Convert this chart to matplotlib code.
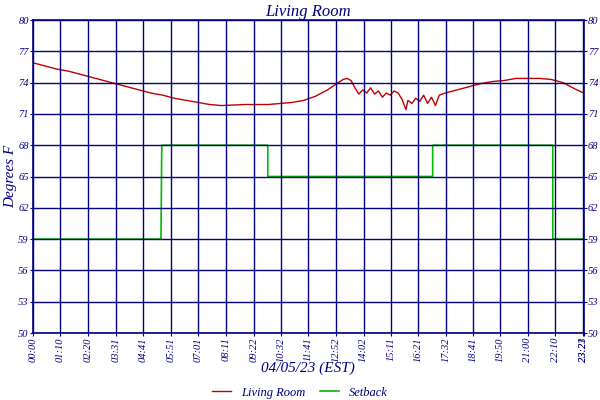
import matplotlib
matplotlib.use("Agg")
import matplotlib.pyplot as plt

temp_min = [0,30,60,90,120,150,180,210,240,270,300,330,360,390,420,450,480,510,540,570,600,630,660,690,720,750,770,790,800,810,820,830,840,850,860,870,880,890,900,910,920,930,940,950,955,965,975,985,995,1005,1015,1025,1035,1050,1080,1110,1140,1170,1200,1230,1260,1290,1320,1350,1380,1403]
temp_val = [75.9,75.6,75.3,75.1,74.8,74.5,74.2,73.9,73.6,73.3,73.0,72.8,72.5,72.3,72.1,71.9,71.8,71.85,71.9,71.9,71.9,72.0,72.1,72.3,72.7,73.3,73.8,74.3,74.4,74.2,73.5,72.9,73.3,73.0,73.5,72.9,73.2,72.6,73.0,72.8,73.2,73.0,72.4,71.4,72.3,72.0,72.5,72.2,72.8,72.0,72.6,71.8,72.8,73.0,73.3,73.6,73.9,74.1,74.2,74.4,74.4,74.4,74.3,74.0,73.4,73.0]
set_min = [0,326,328,598,598,1018,1018,1324,1324,1403]
set_val = [59,59,68,68,65,65,68,68,59,59]
xtick_min = [0,70,140,211,281,351,421,491,562,632,701,772,842,911,981,1052,1121,1190,1260,1330,1401,1403]
xtick_lab = ["00:00","01:10","02:20","03:31","04:41","05:51","07:01","08:11","09:22","10:32","11:41","12:52","14:02","15:11","16:21","17:32","18:41","19:50","21:00","22:10","23:21","23:23"]
ytick = [50,53,56,59,62,65,68,71,74,77,80]

navy = "#000080"
font = "Liberation Serif"
fig = plt.figure(figsize=(6,4), dpi=100)
ax = fig.add_axes([0.055,0.1675,0.918,0.7825])
ax.plot(temp_min, temp_val, color="#c00000", lw=1, label="Living Room", zorder=1)
ax.plot(set_min, set_val, color="#00bb00", lw=1.2, label="Setback", zorder=1)
ax.set_xlim(0,1403); ax.set_ylim(50,80)
ax.set_xticks(xtick_min); ax.set_xticklabels(xtick_lab, rotation=90, fontsize=7.5, style="italic", family=font, color=navy)
ax.set_yticks(ytick)
ax.set_yticklabels([str(v) for v in ytick], fontsize=7.5, style="italic", family=font, color=navy)
ax.tick_params(axis="y", which="both", right=True, labelright=True, length=2, pad=1, color=navy)
ax.tick_params(axis="x", length=2, pad=1, color=navy)
ax.grid(True, color=navy, lw=1, zorder=3)
ax.set_axisbelow(False)
for s in ax.spines.values():
    s.set_color(navy); s.set_linewidth(1.2)
ax.set_title("Living Room", fontsize=12, style="italic", family=font, color=navy, pad=3)
ax.set_ylabel("Degrees F", fontsize=11, style="italic", family=font, color=navy, labelpad=1)
ax.set_xlabel("04/05/23 (EST)", fontsize=11, style="italic", family=font, color=navy, labelpad=0)
leg = fig.legend(loc="lower center", bbox_to_anchor=(0.5,-0.025), ncol=2, frameon=False,
                 prop={"family":font,"style":"italic","size":9}, handlelength=1.5, columnspacing=1.2)
for t in leg.get_texts(): t.set_color(navy)
fig.savefig("out.png", dpi=100)
